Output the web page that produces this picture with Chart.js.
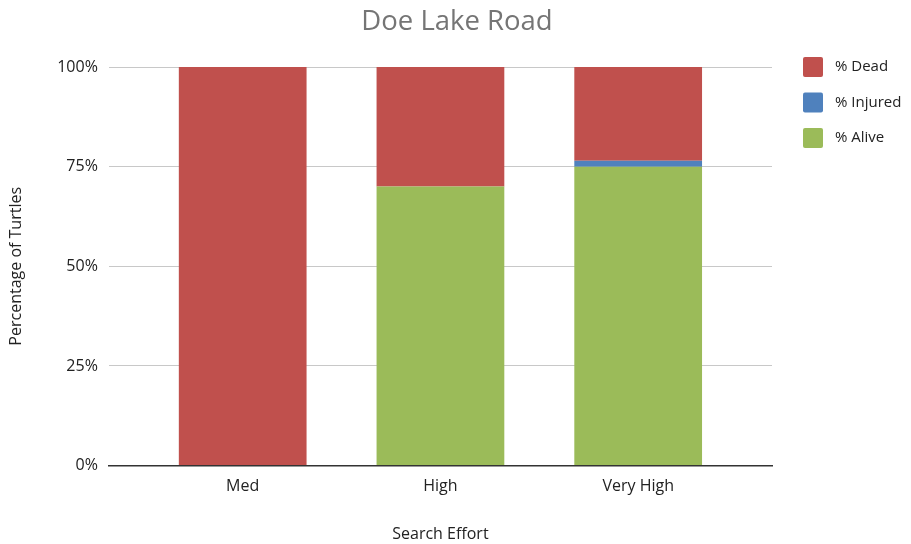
<!DOCTYPE html>
<html>
<head>
<meta charset="utf-8">
<script src="https://cdn.jsdelivr.net/npm/chart.js@4"></script>
<style>
  html, body { margin: 0; padding: 0; background: #fff; }
  #wrap { width: 911px; height: 544px; }
</style>
</head>
<body>
<div id="wrap"><canvas id="myChart"></canvas></div>
<script>
var categories = ['Med', 'High', 'Very High'];
var alive = [0, 70, 75];
var injured = [0, 0, 1.5];
var dead = [100, 30, 23.5];
var yTicks = [0, 25, 50, 75, 100];

Chart.defaults.font.family = "'Open Sans', sans-serif";
Chart.defaults.color = '#222';

// legend drawn by hand, on the right, top aligned with the plot
var sideLegend = {
  id: 'sideLegend',
  afterDraw: function (chart) {
    var c = chart.ctx;
    var sets = chart.data.datasets.slice().reverse();
    c.save();
    c.font = "15px 'Open Sans', sans-serif";
    c.textBaseline = 'middle';
    c.textAlign = 'left';
    for (var i = 0; i < sets.length; i++) {
      var y = chart.chartArea.top + i * 35.5;
      c.fillStyle = sets[i].backgroundColor;
      c.beginPath();
      c.roundRect(chart.chartArea.right + 31, y - 10, 20, 20, 2);
      c.fill();
      c.fillStyle = '#222';
      c.fillText(sets[i].label, chart.chartArea.right + 63, y);
    }
    c.restore();
  }
};

// categories sit on a linear axis so the plot can run past the outer bars
var edge = 0.5 + 35 / 198;

var ctx = document.getElementById('myChart');
new Chart(ctx, {
  type: 'bar',
  data: {
    labels: categories.map(function (c, i) { return i; }),
    datasets: [{
      label: '% Alive',
      data: alive,
      backgroundColor: '#9BBB59'
    }, {
      label: '% Injured',
      data: injured,
      backgroundColor: '#4F81BD'
    }, {
      label: '% Dead',
      data: dead,
      backgroundColor: '#C0504D'
    }]
  },
  plugins: [sideLegend],
  options: {
    responsive: true,
    maintainAspectRatio: false,
    animation: false,
    categoryPercentage: 0.646,
    barPercentage: 1,
    layout: { padding: { left: 3, right: 0, top: 0, bottom: -4 } },
    plugins: {
      title: {
        display: true,
        text: 'Doe Lake Road',
        color: '#757575',
        font: { size: 27.5, weight: 'normal' },
        padding: { top: 6, bottom: 28 }
      },
      legend: { display: false },
      tooltip: { enabled: false }
    },
    scales: {
      x: {
        type: 'linear',
        stacked: true,
        offset: false,
        min: -edge,
        max: categories.length - 1 + edge,
        afterBuildTicks: function (axis) {
          axis.ticks = categories.map(function (c, i) { return { value: i }; });
        },
        grid: { display: false, drawTicks: false },
        border: { color: '#333', width: 1.5 },
        ticks: {
          font: { size: 16 },
          padding: 11,
          callback: function (v) { return categories[v]; }
        },
        title: { display: true, text: 'Search Effort', font: { size: 16 }, padding: { top: 18 } }
      },
      y: {
        stacked: true,
        min: 0,
        max: 100,
        afterBuildTicks: function (axis) {
          axis.ticks = yTicks.map(function (v) { return { value: v }; });
        },
        grid: { color: '#c8c8c8', drawTicks: false },
        border: { display: false },
        ticks: {
          font: { size: 16 },
          padding: 11,
          callback: function (v) { return v + '%'; }
        },
        title: { display: true, text: 'Percentage of Turtles', font: { size: 16 }, padding: { bottom: 20 } }
      },
      // empty axis on the right that only keeps room for the legend
      side: {
        type: 'linear',
        position: 'right',
        grid: { display: false, drawTicks: false },
        border: { display: false },
        ticks: { display: false },
        afterFit: function (axis) { axis.width = 139; }
      }
    }
  }
});
</script>
</body>
</html>
